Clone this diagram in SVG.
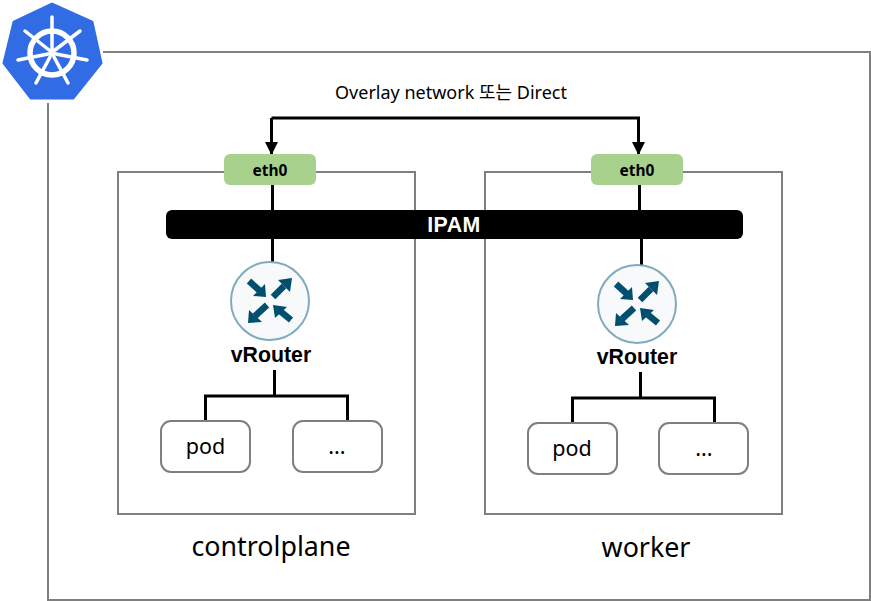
<svg xmlns="http://www.w3.org/2000/svg" width="871" height="601" viewBox="0 0 871 601">
<style>
.frame{fill:none;stroke:#7f7f7f;stroke-width:2}
.eth{fill:#a9d18e}
.wire{fill:none;stroke:#000;stroke-width:3}
.pod{fill:#fff;stroke:#7f7f7f;stroke-width:2}
text{font-family:"Noto Sans","Noto Sans CJK KR",sans-serif;text-anchor:middle;fill:#000}
.b{font-family:"Liberation Sans",sans-serif;font-weight:700;font-size:21.300px}
.n{font-size:21.500px}
.t{font-size:26.800px}
.e{font-size:15.500px;font-weight:700}
.arm{stroke:#004f6e;stroke-width:6.500;fill:none}
.head{fill:#004f6e}
.w{stroke:#fff;fill:none;stroke-linecap:round}
</style>
<defs>
<marker id="ah" markerUnits="userSpaceOnUse" markerWidth="14" markerHeight="14" refX="13" refY="7" orient="auto"><path d="M0 0.500L13 7L0 13.500z" fill="#000"/></marker>
<g id="router">
<circle cx="0" cy="0" r="39" fill="#f8f9fa" stroke="#7fabbd" stroke-width="2"/>
<path class="arm" d="M-21-20L-10-10"/><path class="head" d="M-4-4L-5-17L-17-5z"/>
<path class="arm" d="M3-4L14-15"/><path class="head" d="M22-23L8-21L20-9z"/>
<path class="arm" d="M-3 4L-15 15"/><path class="head" d="M-22 22L-21 9L-8 21z"/>
<path class="arm" d="M21 19L10 10"/><path class="head" d="M3 4L17 6L5 17z"/>
</g>
</defs>
<path class="frame" d="M103 52H870V600H48V103"/>
<g id="controlplane"><rect class="frame" x="118" y="172" width="297" height="342"/><text class="t" x="271" y="556">controlplane</text></g>
<g id="worker"><rect class="frame" x="485" y="172" width="297" height="342"/><text class="t" x="646" y="557">worker</text></g>
<g id="connectors">
<path class="wire" marker-end="url(#ah)" d="M271.500 118V155"/>
<path class="wire" marker-end="url(#ah)" d="M271.500 118H638.500V155"/>
<path class="wire" d="M272.500 185V210M272.500 238V263M639.500 185V210M641.500 238V265"/>
<path class="wire" d="M274.500 370V396M205.500 421V396H347.500V421M640.500 372V398M572.500 423V398H714.500V423"/>
</g>
<g id="overlay-label"><text x="451" y="99" style="font-size:18px">Overlay network 또는 Direct</text></g>
<g id="logo">
<path d="M52 4L92 22L101 63L73 98H31L4 63L14 22z" fill="#326ce5" stroke="#326ce5" stroke-width="3" stroke-linejoin="round"/>
<circle cx="52" cy="53" r="22" class="w" stroke-width="5.500"/>
<circle cx="52" cy="53" r="3.500" fill="#fff"/>
<path class="w" stroke-width="3.500" d="M52 49V17M55 50L80 31M56 54L87 60M54 57L68 83M50 57L36 83M48 54L18 60M49 50L25 31"/>
</g>
<g id="eth0-left"><rect class="eth" x="224" y="154" width="92" height="31" rx="6"/><text class="e" x="270" y="176">eth0</text></g>
<g id="eth0-right"><rect class="eth" x="591" y="154" width="92" height="31" rx="6"/><text class="e" x="637" y="176">eth0</text></g>
<g id="ipam"><rect x="166" y="210" width="577" height="29" rx="6" fill="#000"/><text x="454" y="232" class="b" style="fill:#fff;letter-spacing:.5px">IPAM</text></g>
<g id="vrouter-left"><use href="#router" x="270" y="301"/><text class="b" x="271" y="362">vRouter</text></g>
<g id="vrouter-right"><use href="#router" x="637" y="304"/><text class="b" x="637" y="364">vRouter</text></g>
<g id="pod-left"><rect class="pod" x="161" y="421" width="89" height="51" rx="10"/><text class="n" x="205.500" y="454">pod</text></g>
<g id="more-left"><rect class="pod" x="293" y="421" width="89" height="51" rx="10"/><text class="n" x="337" y="454">...</text></g>
<g id="pod-right"><rect class="pod" x="528" y="423" width="89" height="51" rx="10"/><text class="n" x="572" y="456">pod</text></g>
<g id="more-right"><rect class="pod" x="659" y="423" width="89" height="51" rx="10"/><text class="n" x="704" y="456">...</text></g>
</svg>
